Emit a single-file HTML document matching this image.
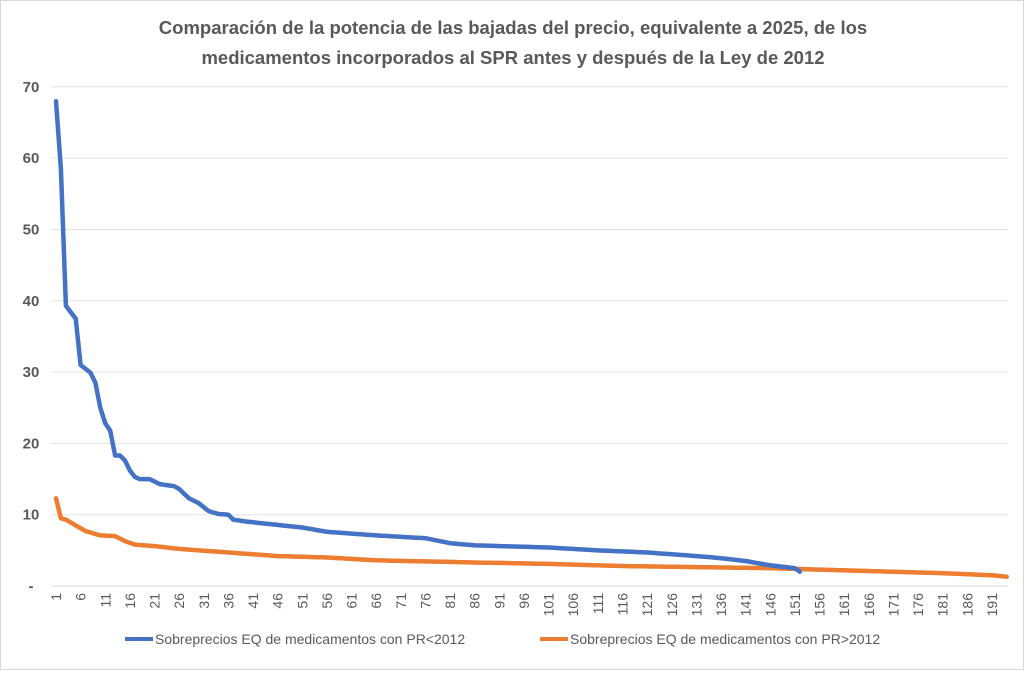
<!DOCTYPE html><html><head><meta charset="utf-8"><style>
body{margin:0;background:#fff;font-family:"Liberation Sans",sans-serif}
#w{position:relative;width:1022px;height:668px;border:1px solid #d9d9d9;background:#fff}
</style></head><body><div id="w"><svg id="s" width="1022" height="668" xmlns="http://www.w3.org/2000/svg"></svg></div>
<script>
const s=document.getElementById('s');
const X=i=>55+(i-1)*4.926, Y=v=>585-v*7.13;
let h='';
h+='<text x="512" y="33" text-anchor="middle" font-size="18.5" font-weight="bold" fill="#595959">Comparación de la potencia de las bajadas del precio, equivalente a 2025, de los</text>';
h+='<text x="512" y="63" text-anchor="middle" font-size="18.5" font-weight="bold" fill="#595959">medicamentos incorporados al SPR antes y después de la Ley de 2012</text>';
for(let v=0;v<=70;v+=10){const y=Y(v);h+=`<line x1="50" x2="1007" y1="${y}" y2="${y}" stroke="${v?'#e3e3e3':'#d9d9d9'}" stroke-width="1"/>`;
h+=`<text x="30" y="${y+5}" text-anchor="middle" font-size="15" font-weight="bold" fill="#595959">${v?v:'-'}</text>`;}
for(let i=1;i<=191;i+=5){const x=X(i)+5;h+=`<text transform="translate(${x},592) rotate(-90)" text-anchor="end" font-size="14" fill="#595959">${i}</text>`;}
function interp(k){let pts=[];for(let j=0;j<k.length-1;j++){const[a,va]=k[j],[b,vb]=k[j+1];for(let i=a;i<b;i++)pts.push([i,va+(vb-va)*(i-a)/(b-a)]);}pts.push(k[k.length-1]);return pts.map(p=>X(p[0]).toFixed(1)+','+Y(p[1]).toFixed(1)).join(' ');}
const blue=[[1,68],[2,58.5],[3,39.3],[5,37.5],[6,31],[8,29.9],[9,28.5],[10,25],[11,22.8],[12,21.8],[13,18.3],[14,18.3],[15,17.6],[16,16.2],[17,15.3],[18,15],[20,15],[22,14.3],[25,14],[26,13.6],[28,12.3],[30,11.6],[32,10.5],[34,10.1],[36,10],[37,9.3],[40,9],[51,8.2],[56,7.6],[66,7.1],[76,6.7],[81,6],[86,5.7],[101,5.4],[111,5],[121,4.7],[131,4.2],[136,3.9],[141,3.5],[146,2.9],[151,2.5],[152,2]];
const org=[[1,12.3],[2,9.5],[3,9.3],[5,8.5],[7,7.7],[10,7.1],[13,7.0],[15,6.3],[17,5.8],[21,5.6],[26,5.2],[36,4.7],[46,4.2],[56,4.0],[66,3.6],[86,3.3],[101,3.1],[116,2.8],[146,2.5],[156,2.3],[171,2.0],[181,1.8],[191,1.5],[194,1.3]];
h+=`<polyline points="${interp(org)}" fill="none" stroke="#ed7d31" stroke-width="4.5" stroke-linejoin="round" stroke-linecap="round"/>`;
h+=`<polyline points="${interp(blue)}" fill="none" stroke="#4472c4" stroke-width="4.5" stroke-linejoin="round" stroke-linecap="round"/>`;
h+='<line x1="124" x2="152" y1="638" y2="638" stroke="#4472c4" stroke-width="4"/><text x="154" y="643" font-size="14" fill="#595959">Sobreprecios EQ de medicamentos con PR&lt;2012</text>';
h+='<line x1="539" x2="567" y1="638" y2="638" stroke="#ed7d31" stroke-width="4"/><text x="569" y="643" font-size="14" fill="#595959">Sobreprecios EQ de medicamentos con PR&gt;2012</text>';
s.innerHTML=h;
</script></body></html>
